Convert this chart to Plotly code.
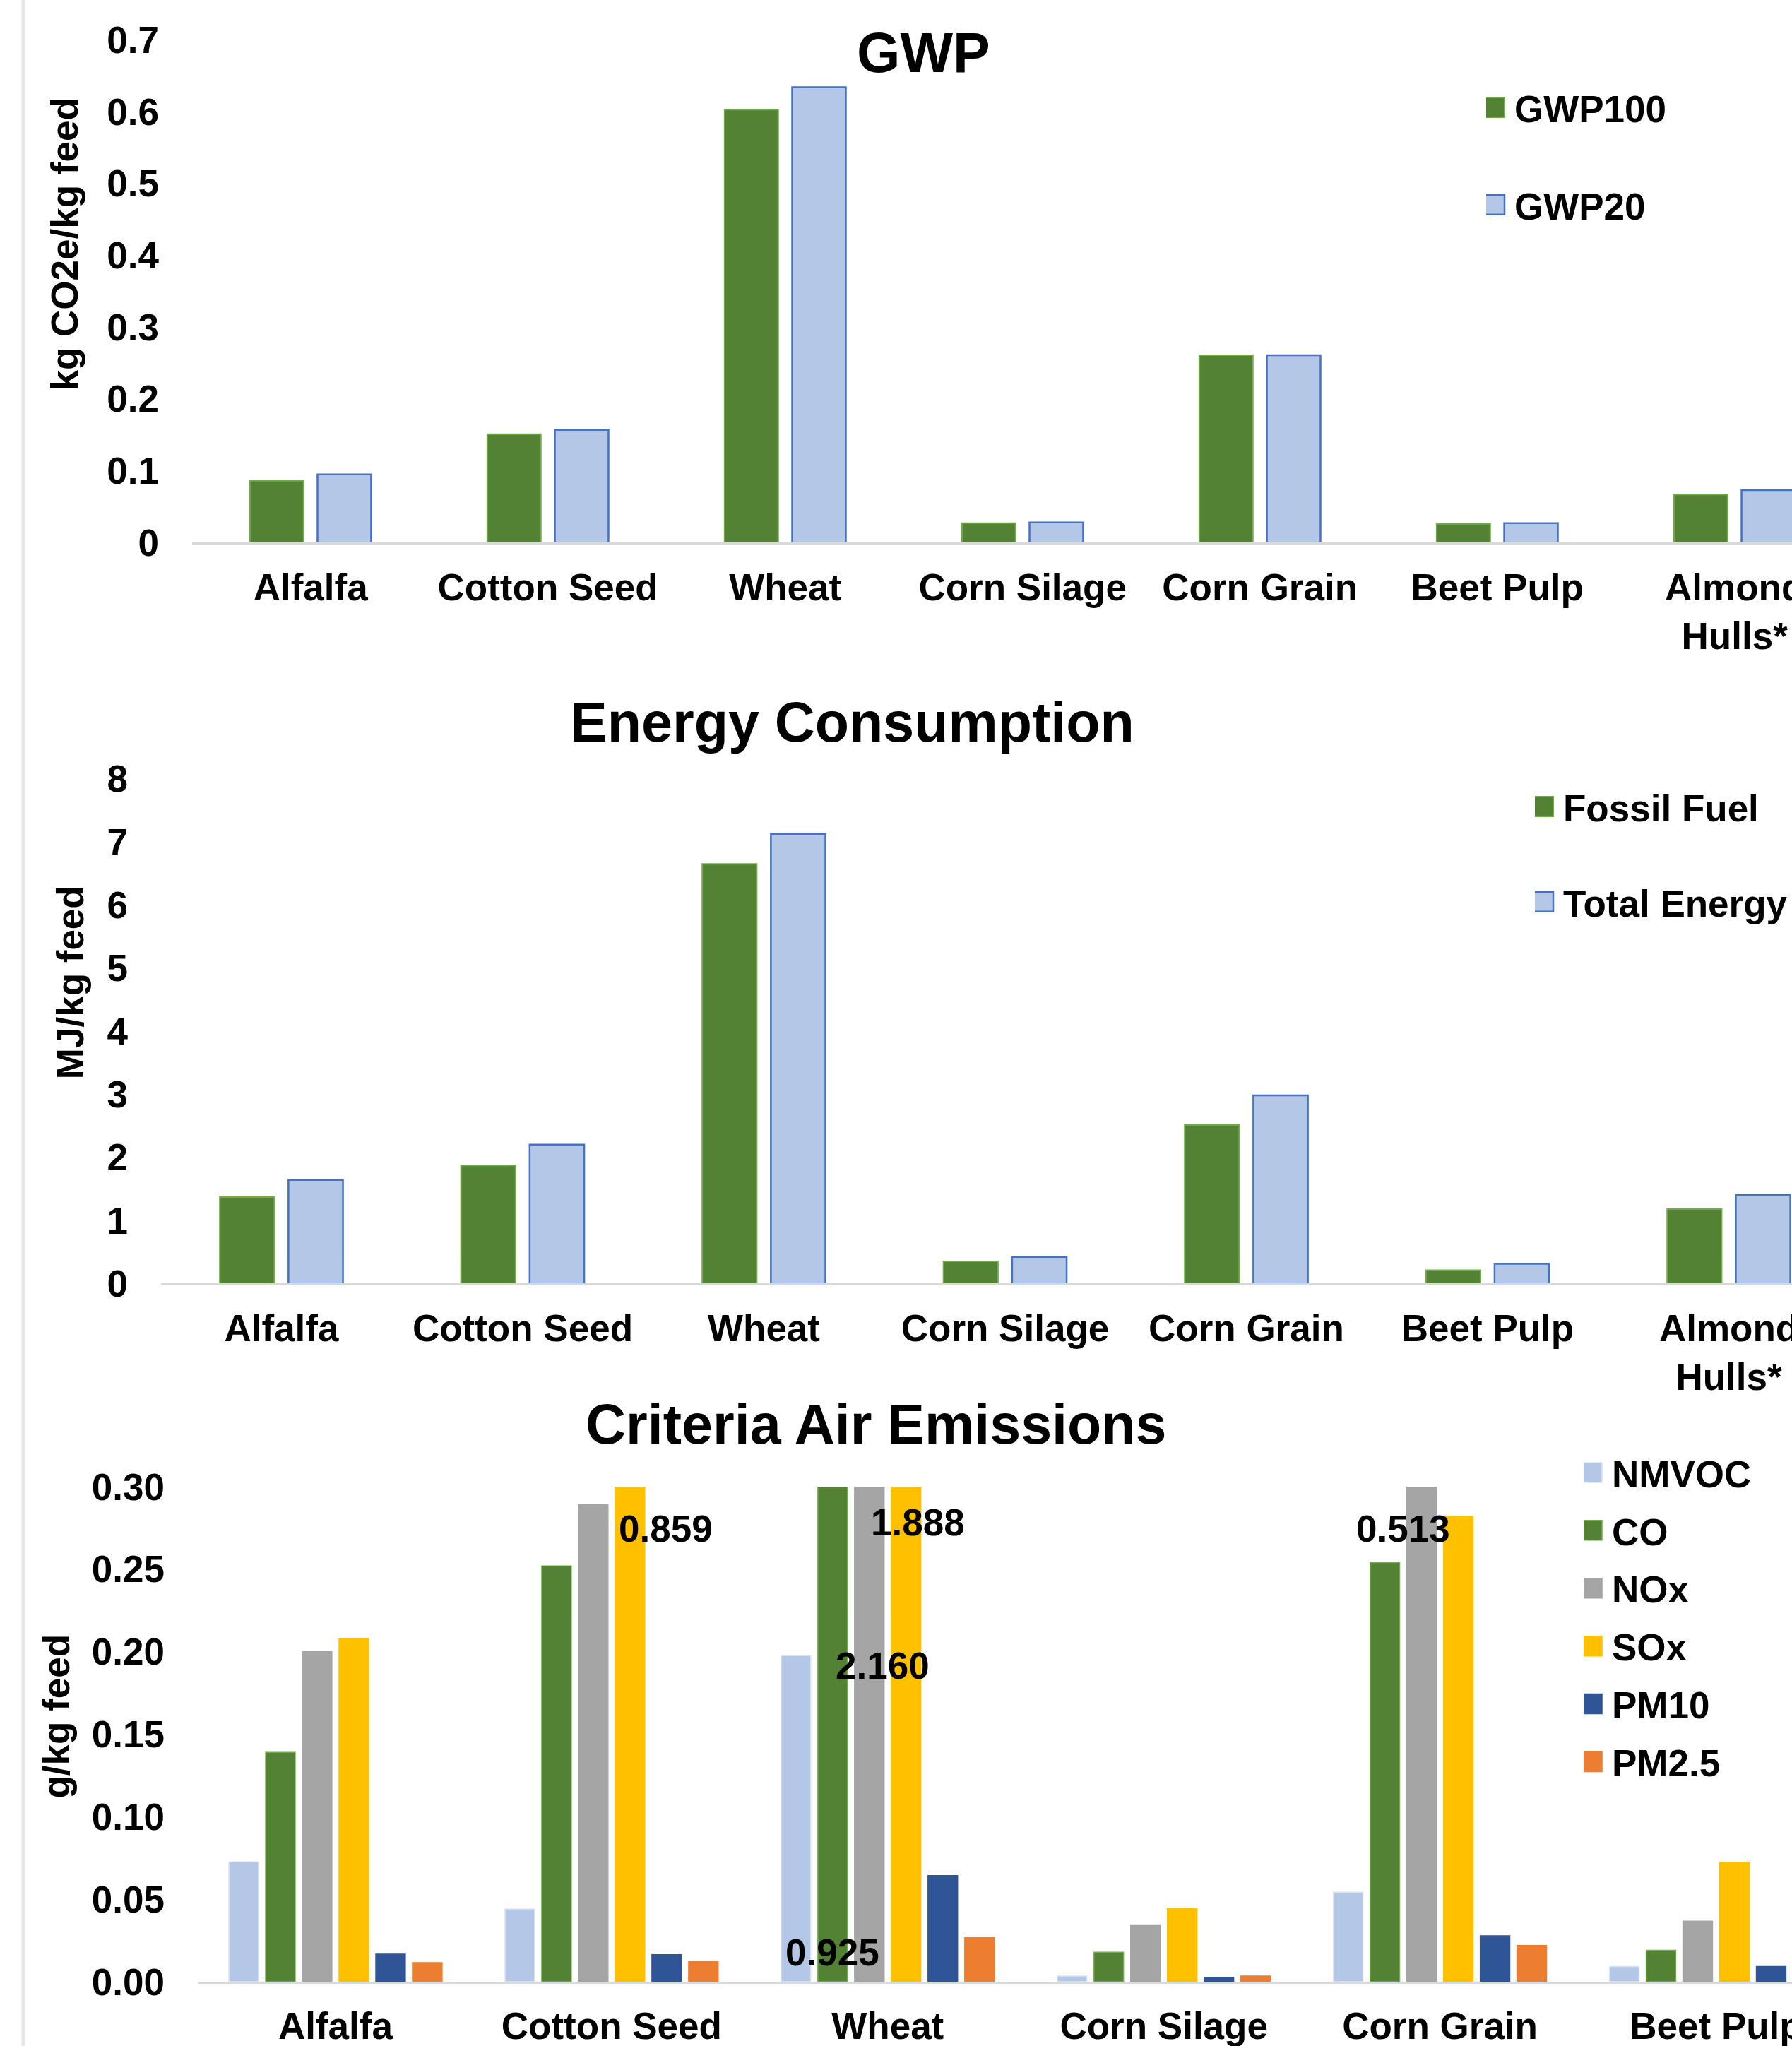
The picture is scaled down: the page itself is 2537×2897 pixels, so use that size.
import plotly.graph_objects as go

W, H = 2537, 2897
FONT = "Liberation Sans, Arial, sans-serif"
FS = 53
TFS = 79

# ---------------- data ----------------
gwp_categories = ["Alfalfa", "Cotton Seed", "Wheat", "Corn Silage", "Corn Grain", "Beet Pulp", "Almond<br>Hulls*"]
gwp100 = [0.086, 0.151, 0.603, 0.027, 0.261, 0.026, 0.067]
gwp20 = [0.095, 0.157, 0.634, 0.028, 0.261, 0.027, 0.073]

energy_categories = ["Alfalfa", "Cotton Seed", "Wheat", "Corn Silage", "Corn Grain", "Beet Pulp", "Almond<br>Hulls*"]
fossil_fuel = [1.37, 1.87, 6.65, 0.35, 2.51, 0.21, 1.18]
total_energy = [1.64, 2.20, 7.12, 0.42, 2.98, 0.31, 1.40]

emission_categories = ["Alfalfa", "Cotton Seed", "Wheat", "Corn Silage", "Corn Grain", "Beet Pulp"]
nmvoc = [0.0726, 0.0441, 0.1976, 0.0034, 0.0542, 0.0092]
co = [0.139, 0.252, 0.925, 0.0179, 0.254, 0.0190]
nox = [0.200, 0.289, 2.160, 0.0345, 0.513, 0.0367]
sox = [0.208, 0.859, 1.888, 0.0443, 0.282, 0.0723]
pm10 = [0.0167, 0.0164, 0.0643, 0.0026, 0.0278, 0.0092]
pm25 = [0.0116, 0.0123, 0.0268, 0.0034, 0.0219, 0.0070]

gwp_ticks = [0, 0.1, 0.2, 0.3, 0.4, 0.5, 0.6, 0.7]
energy_ticks = [0, 1, 2, 3, 4, 5, 6, 7, 8]
emission_ticks = [0.00, 0.05, 0.10, 0.15, 0.20, 0.25, 0.30]

# ---------------- styling ----------------
GREEN, GREEN_LINE = "#548235", "#70ad47"
LBLUE, BLUE_LINE = "#b4c7e7", "#4472c4"
AXIS_GRAY = "#d9d9d9"

emission_series = [
    ("NMVOC", nmvoc, LBLUE, "#dae3f3"),
    ("CO", co, GREEN, GREEN_LINE),
    ("NOx", nox, "#a5a5a5", "#a5a5a5"),
    ("SOx", sox, "#ffc000", "#ffc000"),
    ("PM10", pm10, "#2f5597", "#2f5597"),
    ("PM2.5", pm25, "#ed7d31", "#ed7d31"),
]

# label placement for bars that exceed the axis (category-unit offset, y position)
label_pos = {
    ("Cotton Seed", "SOx"): (0.195, 0.2744),
    ("Wheat", "CO"): (-0.2015, 0.0176),
    ("Wheat", "NOx"): (-0.0195, 0.1916),
    ("Wheat", "SOx"): (0.109, 0.2785),
    ("Corn Grain", "NOx"): (-0.133, 0.2744),
}

fig = go.Figure()

# Panel 1: GWP
fig.add_trace(go.Bar(x=gwp_categories, y=gwp100, name="GWP100", xaxis="x", yaxis="y",
                     width=0.226, offset=-0.2554,
                     marker=dict(color=GREEN, line=dict(color=GREEN_LINE, width=2)),
                     legend="legend", legendgroup="a1"))
fig.add_trace(go.Bar(x=gwp_categories, y=gwp20, name="GWP20", xaxis="x", yaxis="y",
                     width=0.226, offset=0.0294,
                     marker=dict(color=LBLUE, line=dict(color=BLUE_LINE, width=2.5)),
                     legend="legend", legendgroup="a2"))

# Panel 2: Energy
fig.add_trace(go.Bar(x=energy_categories, y=fossil_fuel, name="Fossil Fuel", xaxis="x2", yaxis="y2",
                     width=0.226, offset=-0.2556,
                     marker=dict(color=GREEN, line=dict(color=GREEN_LINE, width=2)),
                     legend="legend2", legendgroup="b1"))
fig.add_trace(go.Bar(x=energy_categories, y=total_energy, name="Total Energy", xaxis="x2", yaxis="y2",
                     width=0.226, offset=0.029,
                     marker=dict(color=LBLUE, line=dict(color=BLUE_LINE, width=2.5)),
                     legend="legend2", legendgroup="b2"))

# Panel 3: Criteria air emissions
bw3, step3, start3 = 0.107, 0.133, -0.386
for k, (name, vals, col, lcol) in enumerate(emission_series):
    fig.add_trace(go.Bar(x=emission_categories, y=vals, name=name, xaxis="x3", yaxis="y3",
                         width=bw3, offset=start3 + k * step3,
                         marker=dict(color=col, line=dict(color=lcol, width=1.5)),
                         legend="legend3", legendgroup="c%d" % k))

tickfont = dict(family=FONT, size=FS, color="black", weight="bold")

def xax(domain, rng):
    return dict(domain=domain, type="category", range=rng, showline=True, linecolor=AXIS_GRAY,
                linewidth=2.5, showgrid=False, zeroline=False, ticks="outside", ticklen=15,
                tickcolor="rgba(0,0,0,0)", tickangle=0, dtick=1, tickfont=tickfont,
                automargin=False, fixedrange=True)

def yax(domain, rng, vals, fmt=None):
    d = dict(domain=domain, range=rng, tickmode="array", tickvals=vals, showgrid=False,
             zeroline=False, showline=False, ticks="outside", ticklen=35,
             tickcolor="rgba(0,0,0,0)", tickfont=tickfont, automargin=False, fixedrange=True)
    if fmt:
        d["tickformat"] = fmt
    return d

xd1 = [271.6 / W, 1]
xd2 = [227.7 / W, 1]
xd3 = [279.5 / W, 1]
yd1 = [1 - 768.3 / H, 1 - 56.5 / H]
yd2 = [1 - 1817.3 / H, 1 - 1102.7 / H]
yd3 = [1 - 2806 / H, 1 - 2105 / H]

xa1 = xax(xd1, [-0.5, 6.242]); xa1["anchor"] = "y"
xa2 = xax(xd2, [-0.5, 6.262]); xa2["anchor"] = "y2"
xa3 = xax(xd3, [-0.5, 5.275]); xa3["anchor"] = "y3"
ya1 = yax(yd1, [0, 0.7], gwp_ticks); ya1["anchor"] = "x"
ya2 = yax(yd2, [0, 8], energy_ticks); ya2["anchor"] = "x2"
ya3 = yax(yd3, [0, 0.30], emission_ticks, ".2f"); ya3["anchor"] = "x3"

legfont = dict(family=FONT, size=FS, color="black", weight="bold")

def leg(x, y, gap):
    return dict(x=x, y=y, xanchor="left", yanchor="top", font=legfont, bgcolor="rgba(0,0,0,0)",
                borderwidth=0, tracegroupgap=gap, orientation="v", traceorder="grouped")

annotations = []
# chart titles
for text, xc, yc in [("GWP", 1307.5, 75), ("Energy Consumption", 1206, 1022.4),
                     ("Criteria Air Emissions", 1240, 2016)]:
    annotations.append(dict(text=text, xref="paper", yref="paper", x=xc / W, y=1 - yc / H,
                            xanchor="center", yanchor="middle", showarrow=False,
                            font=dict(family=FONT, size=TFS, color="black", weight="bold")))
# y-axis titles
for text, xc, yc in [("kg CO2e/kg feed", 90.5, 346), ("MJ/kg feed", 99.5, 1391.7),
                     ("g/kg feed", 78.5, 2430)]:
    annotations.append(dict(text=text, xref="paper", yref="paper", x=xc / W, y=1 - yc / H,
                            xanchor="center", yanchor="middle", showarrow=False, textangle=-90,
                            font=dict(family=FONT, size=FS, color="black", weight="bold")))
# value labels for bars beyond the axis maximum
ymax3 = emission_ticks[-1]
for name, vals, col, lcol in emission_series:
    for i, cat in enumerate(emission_categories):
        if vals[i] > ymax3 and (cat, name) in label_pos:
            dx, ly = label_pos[(cat, name)]
            annotations.append(dict(text="%.3f" % vals[i], xref="x3", yref="y3", x=i + dx, y=ly,
                                    xanchor="center", yanchor="middle", showarrow=False,
                                    font=dict(family=FONT, size=FS, color="black", weight="bold")))

shapes = [dict(type="line", xref="paper", yref="paper", x0=33 / W, x1=33 / W, y0=0, y1=1,
               line=dict(color="#e7e7e7", width=5))]

fig.update_layout(
    width=W, height=H, margin=dict(l=0, r=0, t=0, b=0, pad=0),
    paper_bgcolor="white", plot_bgcolor="white",
    font=dict(family=FONT, size=FS, color="black", weight="bold"),
    xaxis=xa1, yaxis=ya1, xaxis2=xa2, yaxis2=ya2, xaxis3=xa3, yaxis3=ya3,
    legend=leg((2144 - 40) / W, 1 - 111 / H, 66),
    legend2=leg((2213 - 40) / W, 1 - 1101 / H, 63),
    legend3=leg((2282 - 40) / W, 1 - 2044 / H, 10),
    annotations=annotations, shapes=shapes,
    showlegend=True,
)

# enlarge the legend swatches to match the reference's square markers
post_js = """
document.body.style.margin='0';
document.body.style.overflow='hidden';
(function(){
  function bigSwatches(){
    try {
      var nodes = document.querySelectorAll('g.legendpoints path');
      for (var i = 0; i < nodes.length; i++) {
        nodes[i].setAttribute('d', 'M6,14H-22V-14H6Z');
      }
    } catch(e) {}
  }
  bigSwatches();
  setTimeout(bigSwatches, 0);
  setTimeout(bigSwatches, 200);
  setTimeout(bigSwatches, 800);
  try {
    var gd = document.getElementsByClassName('plotly-graph-div')[0];
    if (gd && gd.on) { gd.on('plotly_afterplot', bigSwatches); }
  } catch(e) {}
})();
"""

fig.write_html("out.html", config={"displayModeBar": False}, post_script=post_js)
